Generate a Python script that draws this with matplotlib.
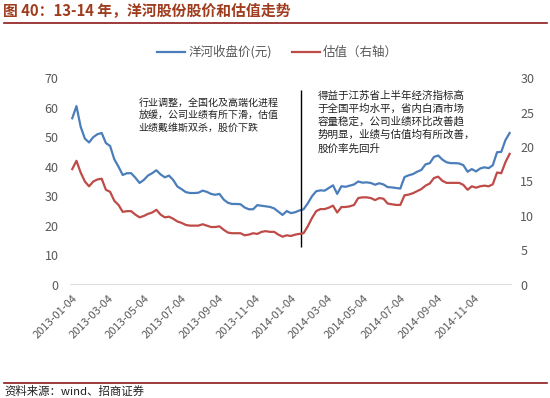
import pandas as pd
import matplotlib
matplotlib.use("Agg")
import matplotlib.pyplot as plt
from matplotlib.lines import Line2D

plt.rcParams['font.family'] = ['Noto Sans CJK SC', 'DejaVu Sans']

# weekly closing price of 洋河股份 (yuan)
price = [56.4, 60.5, 53.5, 49.5, 48.2, 50.0, 51.0, 51.4, 48.0, 47.0,
         42.5, 40.0, 37.2, 37.8, 37.8, 36.3, 34.5, 35.5, 37.0, 37.8,
         38.8, 37.4, 36.4, 37.0, 35.5, 33.3, 32.4, 31.4, 31.1, 31.1,
         31.2, 31.9, 31.5, 30.8, 30.5, 30.8, 28.9, 27.8, 27.4, 27.4,
         27.3, 26.2, 25.6, 25.6, 27.0, 26.8, 26.6, 26.4, 25.9, 24.8,
         23.7, 25.0, 24.3, 24.6, 25.2, 25.6, 27.6, 30.0, 31.7, 32.0,
         31.9, 32.8, 33.7, 30.8, 33.4, 33.2, 33.6, 34.0, 35.0, 34.6,
         34.7, 34.5, 33.9, 34.4, 34.0, 33.1, 33.0, 32.8, 32.6, 36.5,
         37.1, 37.5, 38.3, 38.9, 40.8, 41.2, 43.3, 43.8, 42.4, 41.5,
         41.2, 41.2, 41.1, 40.5, 38.3, 39.2, 38.4, 39.4, 39.8, 39.5,
         40.5, 44.9, 45.0, 49.0, 51.4]

# PE valuation (right axis)
pe = [16.8, 18.0, 16.3, 15.0, 14.3, 15.0, 15.3, 15.4, 13.8, 13.5,
      12.2, 11.6, 10.6, 10.7, 10.7, 10.2, 9.8, 10.0, 10.3, 10.5,
      10.9, 10.2, 9.8, 9.9, 9.6, 9.2, 9.0, 8.7, 8.6, 8.6,
      8.6, 8.8, 8.6, 8.4, 8.4, 8.5, 8.0, 7.6, 7.5, 7.5,
      7.5, 7.2, 7.3, 7.5, 7.4, 7.7, 7.8, 7.7, 7.7, 7.3,
      7.0, 7.2, 7.1, 7.3, 7.4, 7.5, 8.5, 9.7, 10.7, 11.0,
      11.0, 11.2, 11.5, 10.5, 11.3, 11.3, 11.4, 11.6, 12.6, 12.7,
      12.7, 12.6, 12.3, 12.6, 12.5, 11.8, 11.7, 11.6, 11.6, 13.0,
      13.1, 13.3, 13.6, 13.9, 14.4, 14.7, 15.5, 15.7, 15.1, 14.8,
      14.8, 14.8, 14.8, 14.5, 13.8, 14.3, 14.1, 14.3, 14.4, 14.3,
      14.6, 16.3, 16.2, 17.8, 19.0]

dates = pd.date_range("2013-01-04", periods=len(price), freq="7D")
tick_labels = ["2013-01-04", "2013-03-04", "2013-05-04", "2013-07-04",
               "2013-09-04", "2013-11-04", "2014-01-04", "2014-03-04",
               "2014-05-04", "2014-07-04", "2014-09-04", "2014-11-04"]
turn_date = pd.Timestamp("2014-01-20")

note1 = "行业调整，全国化及高端化进程\n放缓，公司业绩有所下滑，估值\n业绩戴维斯双杀，股价下跌"
note2 = ("得益于江苏省上半年经济指标高\n于全国平均水平，省内白酒市场\n"
         "容量稳定，公司业绩环比改善趋\n势明显，业绩与估值均有所改善，\n股价率先回升")

blue = "#4a7ebb"
red = "#be4b48"
gray = "#595959"

fig = plt.figure(figsize=(5.5, 3.98), dpi=100)
ax = fig.add_axes([0.127, 0.284, 0.804, 0.520])
ax2 = ax.twinx()

ax.plot(dates, price, color=blue, lw=1.6)
ax2.plot(dates, pe, color=red, lw=1.6)
ax.vlines(turn_date, 13, 66, color="black", lw=1)

ax.set_ylim(0, 70)
ax.set_yticks(range(0, 71, 10))
ax2.set_ylim(0, 30)
ax2.set_yticks(range(0, 31, 5))
ax.set_xlim(dates[0] - pd.Timedelta(days=4), dates[-1] + pd.Timedelta(days=4))
ax.set_xticks(pd.to_datetime(tick_labels))
ax.set_xticklabels(tick_labels, rotation=45, ha="right", rotation_mode="anchor")

for a in (ax, ax2):
    for s in a.spines.values():
        s.set_visible(False)
    a.tick_params(length=0, colors=gray, labelsize=9)
ax.tick_params(axis="x", labelsize=8, pad=6)
ax.tick_params(axis="y", pad=8)
ax2.tick_params(axis="y", pad=6)
ax.axhline(0, color="#d9d9d9", lw=2, zorder=0)

ax.text(0.155, 0.905, note1, transform=ax.transAxes, fontsize=7.2,
        va="top", ha="left", linespacing=1.3, color="#222222")
ax.text(0.56, 0.94, note2, transform=ax.transAxes, fontsize=7.6,
        va="top", ha="left", linespacing=1.35, color="#222222")

handles = [Line2D([], [], color=blue, lw=1.6), Line2D([], [], color=red, lw=1.6)]
fig.legend(handles, ["洋河收盘价(元)", "估值（右轴）"], loc="center",
           bbox_to_anchor=(0.505, 0.869), ncol=2, frameon=False, fontsize=9,
           labelcolor=gray, handlelength=2.2, columnspacing=1.6, handletextpad=0.3)

fig.text(0.006, 0.972, "图 40：13-14 年，洋河股份股价和估值走势", fontsize=10.7,
         fontweight="bold", color="#a03c1e", va="center", ha="left")
fig.add_artist(Line2D([0.008, 0.995], [0.943, 0.943], color="#8b1a1a", lw=1.2,
                      transform=fig.transFigure))
fig.add_artist(Line2D([0.008, 0.995], [0.038, 0.038], color="#8b1a1a", lw=1.2,
                      transform=fig.transFigure))
fig.text(0.008, 0.017, "资料来源：wind、招商证券", fontsize=8.2, color="#222222",
         va="center", ha="left")

fig.savefig("out.png", dpi=100)
